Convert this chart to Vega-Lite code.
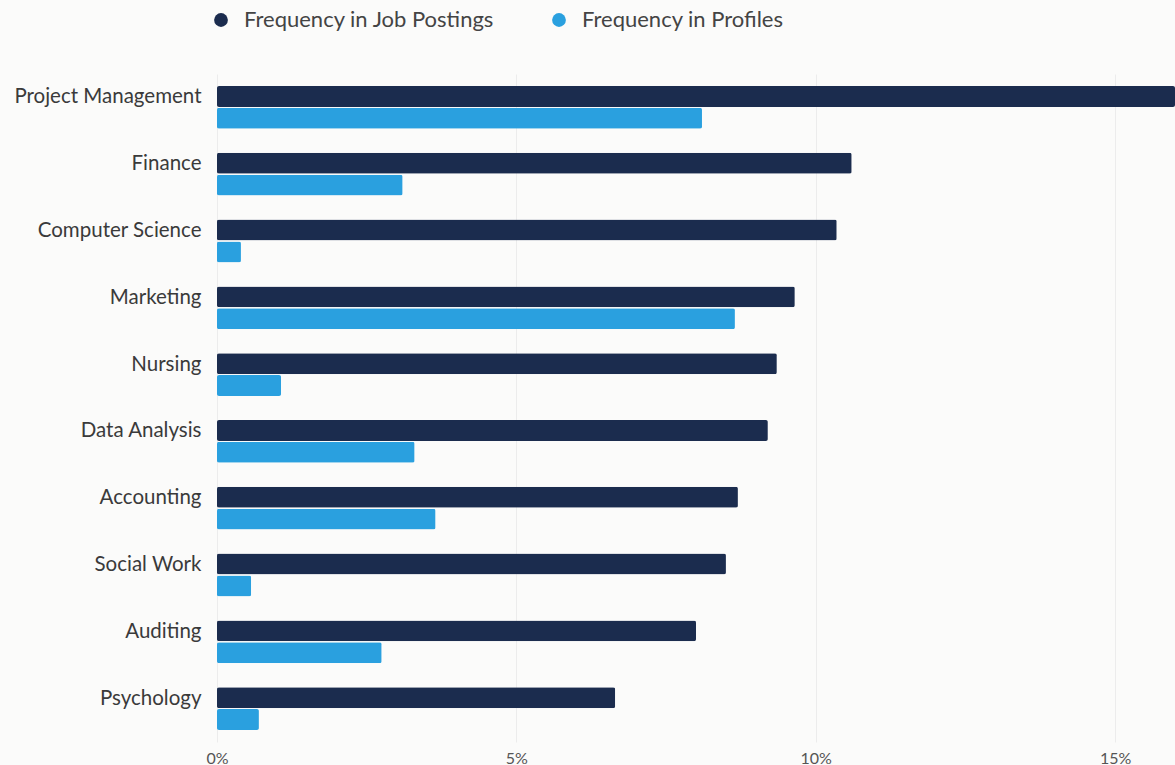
{
  "$schema": "https://vega.github.io/schema/vega-lite/v6.json",
  "width": 958,
  "height": 668,
  "autosize": {"type": "none"},
  "padding": {"left": 217, "top": 74, "right": 0, "bottom": 23},
  "background": "#fbfbfa",
  "config": {
    "view": {"stroke": null},
    "font": "Lato"
  },
  "data": {
    "values": [
      {"skill": "Project Management", "series": "Frequency in Job Postings", "value": 16.5},
      {"skill": "Project Management", "series": "Frequency in Profiles", "value": 8.1},
      {"skill": "Finance", "series": "Frequency in Job Postings", "value": 10.6},
      {"skill": "Finance", "series": "Frequency in Profiles", "value": 3.1},
      {"skill": "Computer Science", "series": "Frequency in Job Postings", "value": 10.35},
      {"skill": "Computer Science", "series": "Frequency in Profiles", "value": 0.4},
      {"skill": "Marketing", "series": "Frequency in Job Postings", "value": 9.65},
      {"skill": "Marketing", "series": "Frequency in Profiles", "value": 8.65},
      {"skill": "Nursing", "series": "Frequency in Job Postings", "value": 9.35},
      {"skill": "Nursing", "series": "Frequency in Profiles", "value": 1.07},
      {"skill": "Data Analysis", "series": "Frequency in Job Postings", "value": 9.2},
      {"skill": "Data Analysis", "series": "Frequency in Profiles", "value": 3.3},
      {"skill": "Accounting", "series": "Frequency in Job Postings", "value": 8.7},
      {"skill": "Accounting", "series": "Frequency in Profiles", "value": 3.65},
      {"skill": "Social Work", "series": "Frequency in Job Postings", "value": 8.5},
      {"skill": "Social Work", "series": "Frequency in Profiles", "value": 0.57},
      {"skill": "Auditing", "series": "Frequency in Job Postings", "value": 8.0},
      {"skill": "Auditing", "series": "Frequency in Profiles", "value": 2.75},
      {"skill": "Psychology", "series": "Frequency in Job Postings", "value": 6.65},
      {"skill": "Psychology", "series": "Frequency in Profiles", "value": 0.7}
    ]
  },
  "mark": {"type": "bar", "cornerRadius": 2},
  "encoding": {
    "y": {
      "field": "skill",
      "type": "nominal",
      "sort": null,
      "scale": {"paddingInner": 0.36, "paddingOuter": 0.18},
      "axis": {
        "title": null,
        "domain": false,
        "ticks": false,
        "labelFontSize": 20.5,
        "labelColor": "#3a3a3a",
        "labelPadding": 16,
        "labelOffset": -10,
        "labelLimit": 260
      }
    },
    "yOffset": {
      "field": "series",
      "type": "nominal",
      "sort": ["Frequency in Job Postings", "Frequency in Profiles"],
      "scale": {"paddingInner": 0.04}
    },
    "x": {
      "field": "value",
      "type": "quantitative",
      "scale": {"domain": [0, 16], "clamp": true},
      "axis": {
        "title": null,
        "values": [0, 5, 10, 15],
        "labelExpr": "datum.value + '%'",
        "labelFlush": false,
        "domain": false,
        "ticks": false,
        "grid": true,
        "gridColor": "#ececec",
        "labelFontSize": 16,
        "labelColor": "#555555",
        "labelPadding": 8
      }
    },
    "color": {
      "field": "series",
      "type": "nominal",
      "sort": ["Frequency in Job Postings", "Frequency in Profiles"],
      "scale": {"range": ["#1b2c4e", "#2aa0df"]},
      "legend": {
        "title": null,
        "orient": "none",
        "direction": "horizontal",
        "legendX": -7,
        "legendY": -65,
        "symbolType": "circle",
        "symbolSize": 190,
        "symbolStrokeWidth": 0,
        "labelFontSize": 22,
        "labelColor": "#444444",
        "labelOffset": 12,
        "labelLimit": 400,
        "columnPadding": 53
      }
    }
  }
}
